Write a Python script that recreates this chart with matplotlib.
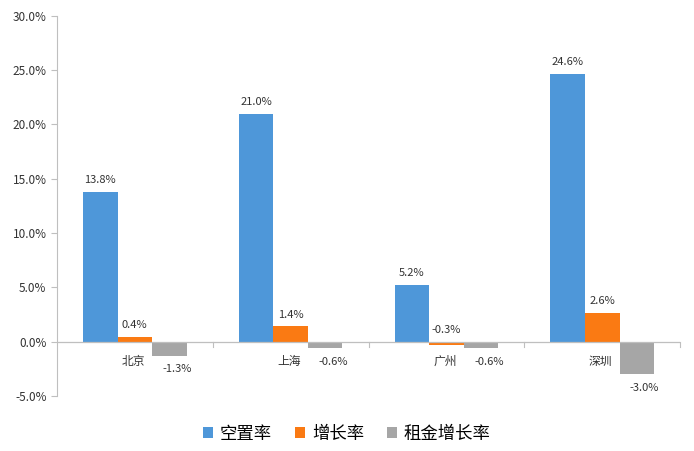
import numpy as np
import matplotlib.pyplot as plt
from matplotlib.ticker import FuncFormatter

plt.rcParams['font.family'] = ['Noto Sans CJK SC', 'DejaVu Sans']

# data
cities = ['北京', '上海', '广州', '深圳']
series_names = ['空置率', '增长率', '租金增长率']
vacancy = [13.8, 21.0, 5.2, 24.6]
growth = [0.4, 1.4, -0.3, 2.6]
rent_growth = [-1.3, -0.6, -0.6, -3.0]
colors = ['#4e97d9', '#fa7a13', '#a6a6a6']

fig = plt.figure(figsize=(6.94, 4.51), dpi=100)
ax = fig.add_axes([0.082, 0.122, 0.898, 0.843])

x = np.arange(len(cities))
w = 0.222
all_series = [vacancy, growth, rent_growth]
for i, vals in enumerate(all_series):
    pos = x + (i - 1) * w
    ax.bar(pos, vals, width=w, color=colors[i], label=series_names[i], zorder=2)
    for p, v in zip(pos, vals):
        if v >= 0 or i == 1:
            ax.annotate('%.1f%%' % v, (p, max(v, 0)), xytext=(0, 5), textcoords='offset points',
                        ha='center', va='bottom', fontsize=8, color='#333333')
        else:
            ax.annotate('%.1f%%' % v, (p + 0.05, v), xytext=(0, -6), textcoords='offset points',
                        ha='center', va='top', fontsize=8, color='#333333')

ax.set_xlim(-0.5, 3.5)
ax.set_ylim(-5, 30)
ax.set_yticks(np.arange(-5, 31, 5))
ax.yaxis.set_major_formatter(FuncFormatter(lambda v, p: '%.1f%%' % v))
ax.tick_params(axis='y', labelsize=8.5, colors='#333333', length=4, width=0.8)
ax.tick_params(axis='y', color='#bfbfbf')

for s in ['top', 'right', 'bottom']:
    ax.spines[s].set_visible(False)
ax.spines['left'].set_color('#bfbfbf')

# zero line with category ticks
ax.axhline(0, color='#bfbfbf', lw=0.9, zorder=3)
ax.set_xticks([])
for b in np.arange(0.5, 3.6, 1.0):
    ax.plot([b, b], [0, -0.45], color='#bfbfbf', lw=0.8, clip_on=False, zorder=3)
for xi, c in zip(x, cities):
    ax.text(xi - 0.01, -1.85, c, ha='center', va='center', fontsize=8.5, color='#333333')

ax.legend(loc='upper center', bbox_to_anchor=(0.465, -0.035), ncol=3, frameon=False,
          fontsize=12.5, handlelength=0.6, handleheight=0.6, handletextpad=0.4,
          columnspacing=1.3)

fig.savefig('out.png', dpi=100)
